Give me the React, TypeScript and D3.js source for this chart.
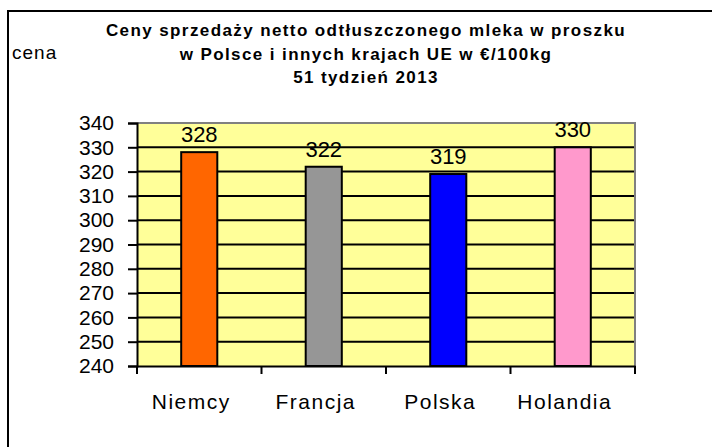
import React, { useEffect, useRef } from 'react';
import * as d3 from 'd3';

const countries = ['Niemcy', 'Francja', 'Polska', 'Holandia'];
const prices = [328, 322, 319, 330];
const barColors = ['#FF6600', '#969696', '#0000FF', '#FF99CC'];
const yTicks = [240, 250, 260, 270, 280, 290, 300, 310, 320, 330, 340];
const titleLines = [
  'Ceny sprzedaży netto odtłuszczonego mleka w proszku',
  'w Polsce i innych krajach UE w €/100kg',
  '51 tydzień 2013',
];

export default function App() {
  const ref = useRef<SVGSVGElement>(null);

  useEffect(() => {
    const svg = d3.select(ref.current);
    svg.selectAll('*').remove();

    const W = 712;
    const H = 447;
    const plot = { left: 137, right: 635, top: 123, bottom: 366 };
    const font = '"Liberation Sans", Arial, sans-serif';

    svg.append('rect').attr('width', W).attr('height', H).attr('fill', '#fff');

    // outer chart border (only left/top fall inside the picture)
    svg
      .append('rect')
      .attr('x', 8)
      .attr('y', 11)
      .attr('width', W + 20)
      .attr('height', H + 20)
      .attr('fill', 'none')
      .attr('stroke', '#000')
      .attr('stroke-width', 2);

    // title
    svg
      .append('g')
      .selectAll('text')
      .data(titleLines)
      .enter()
      .append('text')
      .attr('x', 366)
      .attr('y', (d, i) => 36 + i * 23.5)
      .attr('text-anchor', 'middle')
      .attr('font-family', font)
      .attr('font-weight', 'bold')
      .attr('font-size', 17)
      .attr('letter-spacing', 1.4)
      .text((d) => d);

    svg
      .append('text')
      .attr('x', 12)
      .attr('y', 59)
      .attr('font-family', font)
      .attr('font-size', 19)
      .attr('letter-spacing', 1)
      .text('cena');

    const x = d3
      .scaleBand()
      .domain(countries)
      .range([plot.left, plot.right])
      .paddingInner(0)
      .paddingOuter(0);

    const y = d3.scaleLinear().domain([240, 340]).range([plot.bottom, plot.top]);

    // plot area
    svg
      .append('rect')
      .attr('x', plot.left)
      .attr('y', plot.top)
      .attr('width', plot.right - plot.left)
      .attr('height', plot.bottom - plot.top)
      .attr('fill', '#FFFF99');

    // gridlines
    svg
      .append('g')
      .selectAll('line')
      .data(yTicks.filter((t) => t > 240 && t < 340))
      .enter()
      .append('line')
      .attr('x1', plot.left)
      .attr('x2', plot.right)
      .attr('y1', (d) => y(d))
      .attr('y2', (d) => y(d))
      .attr('stroke', '#000')
      .attr('stroke-width', 2);

    // gray top/right border of plot area
    svg
      .append('path')
      .attr('d', `M${plot.left},${plot.top}H${plot.right}V${plot.bottom}`)
      .attr('fill', 'none')
      .attr('stroke', '#808080')
      .attr('stroke-width', 2);

    // bars
    const barW = x.bandwidth() * 0.29;
    svg
      .append('g')
      .selectAll('rect')
      .data(countries)
      .enter()
      .append('rect')
      .attr('x', (d) => (x(d) as number) + x.bandwidth() / 2 - barW / 2)
      .attr('y', (d, i) => y(prices[i]))
      .attr('width', barW)
      .attr('height', (d, i) => plot.bottom - y(prices[i]))
      .attr('fill', (d, i) => barColors[i])
      .attr('stroke', '#000')
      .attr('stroke-width', 2);

    // value labels
    svg
      .append('g')
      .selectAll('text')
      .data(countries)
      .enter()
      .append('text')
      .attr('x', (d) => (x(d) as number) + x.bandwidth() / 2)
      .attr('y', (d, i) => y(prices[i]) - 10)
      .attr('text-anchor', 'middle')
      .attr('font-family', font)
      .attr('font-size', 22)
      .text((d, i) => prices[i]);

    // y axis
    const yAxis = svg
      .append('g')
      .attr('transform', `translate(${plot.left},0)`)
      .call(d3.axisLeft(y).tickValues(yTicks).tickSize(9).tickPadding(14));
    yAxis.select('.domain').attr('stroke', '#000').attr('stroke-width', 2);
    yAxis.selectAll('.tick line').attr('stroke', '#000').attr('stroke-width', 2);
    yAxis
      .selectAll('.tick text')
      .attr('font-family', font)
      .attr('font-size', 21)
      .attr('fill', '#000');

    // x axis
    const xAxis = svg
      .append('g')
      .attr('transform', `translate(0,${plot.bottom})`)
      .call(d3.axisBottom(x).tickSize(0).tickPadding(28));
    xAxis.select('.domain').attr('stroke', '#000').attr('stroke-width', 2);
    xAxis
      .selectAll('.tick text')
      .attr('font-family', font)
      .attr('font-size', 21)
      .attr('letter-spacing', 1.5)
      .attr('fill', '#000')
      .attr('dx', -8);

    // category boundary ticks
    const bounds = countries.map((d) => x(d) as number).concat([plot.right]);
    svg
      .append('g')
      .selectAll('line')
      .data(bounds)
      .enter()
      .append('line')
      .attr('x1', (d) => d)
      .attr('x2', (d) => d)
      .attr('y1', plot.bottom)
      .attr('y2', plot.bottom + 8)
      .attr('stroke', '#000')
      .attr('stroke-width', 2);
  }, []);

  return (
    <svg
      ref={ref}
      width={712}
      height={447}
      style={{ position: 'absolute', left: 0, top: 0, display: 'block' }}
    />
  );
}
